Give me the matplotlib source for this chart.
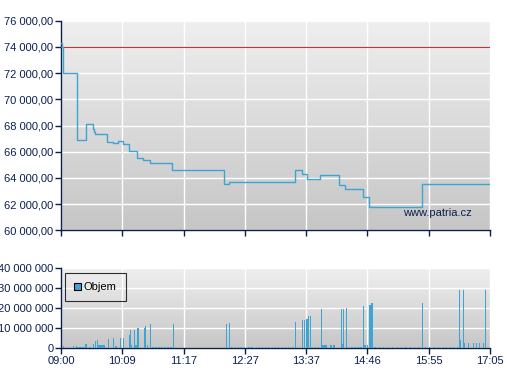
import numpy as np
import matplotlib
matplotlib.use("Agg")
import matplotlib.pyplot as plt
from matplotlib.ticker import FuncFormatter, FixedLocator
from matplotlib.colors import LinearSegmentedColormap

# ---- data ----
# price steps: minutes after 09:00, price (step-post)
price_t = [0, 1.5, 2.6, 17.7, 27.9, 35.8, 37.0, 38.1, 52.3, 59.1, 64.8, 70.4, 76.5, 86.3,
           93.0, 100.3, 125.8, 184.6, 189.6, 260.8, 264.5, 272.1, 278.5, 292.8, 312.4,
           314.3, 321.1, 341.1, 348.5, 407.8, 485]
price_v = [74270, 74000, 72000, 66925, 68150, 67700, 67500, 67380, 66770, 66700, 66800,
           66620, 66030, 65490, 65400, 65160, 64630, 63500, 63710, 63710, 64630, 64270,
           63940, 64190, 64190, 63480, 63120, 62565, 61800, 63500, 63500]
ref_price = 74000

vol_t = [2.6, 13.9, 17.7, 19.2, 21.5, 23.7, 26.0, 28.3, 32.0, 33.6, 36.5, 39.2, 41.0, 43.0,
         45.2, 47.5, 49.4, 53.5, 59.1, 62.2, 67.0, 70.4, 77.2, 78.3, 79.9, 82.9, 84.8, 87.0,
         94.2, 95.3, 98.0, 101.0, 104.0, 107.4, 110.8, 114.2, 117.6, 121.0, 124.4, 127.0,
         186.9, 190.3, 193.4, 196.8, 200.2, 203.6, 207.0, 212.6, 216.0, 220.6, 224.0, 227.4,
         230.8, 234.2, 238.7, 242.1, 245.5, 250.0, 253.4, 256.8, 261.3,
         264.9, 272.8, 275.0, 277.3, 278.4, 279.6, 281.8, 284.0, 287.4, 290.8,
         294.3, 295.6, 297.3, 299.6, 305.2, 308.6, 316.9, 318.0, 319.1, 322.5,
         325.5, 329.0, 332.4, 335.8, 339.2, 341.8, 343.0, 344.6, 346.6, 349.3, 351.6,
         355.0, 360.0, 365.0, 370.0, 375.0, 380.0, 385.0, 390.0, 395.0, 400.0, 404.0,
         408.4, 412.0, 417.0, 422.0, 427.0, 432.0, 436.0, 440.0, 444.0, 448.0,
         450.3, 451.6, 454.8, 456.1, 460.4, 466.1, 469.5, 472.9, 477.4, 479.7]
vol_m = [1.2, 1.0, 1.0, 0.5, 0.5, 0.5, 0.5, 2.0, 0.5, 0.8, 2.2, 3.7, 4.2, 1.7,
         1.7, 1.7, 1.7, 4.7, 5.2, 1.0, 5.2, 5.2, 6.7, 9.2, 1.5, 9.2, 1.8, 10.2,
         10.2, 11.2, 1.7, 12.3, 0.5, 0.5, 0.5, 0.5, 0.5, 0.5, 0.5, 12.2,
         12.2, 12.7, 0.5, 0.5, 0.5, 0.5, 0.5, 0.5, 0.5, 0.5, 0.5, 0.5,
         0.5, 0.5, 0.5, 0.5, 0.5, 0.5, 0.5, 0.5, 0.5,
         13.1, 14.1, 14.1, 14.6, 14.6, 16.1, 16.1, 0.5, 0.5, 0.5,
         19.6, 1.6, 1.6, 1.6, 1.5, 1.5, 19.6, 2.0, 19.6, 20.1,
         0.5, 0.5, 0.5, 0.5, 0.5, 21.1, 1.5, 1.5, 1.5, 21.6, 22.6,
         0.5, 0.5, 0.5, 0.5, 0.5, 0.5, 0.5, 0.5, 0.5, 0.5, 0.5,
         22.6, 0.5, 0.5, 0.5, 0.5, 0.5, 0.5, 0.5, 0.5, 0.5,
         29.2, 4.0, 29.2, 2.6, 2.6, 2.6, 2.6, 2.6, 2.6, 29.2]

x_ticks = [0, 69.3, 138.6, 207.9, 277.1, 346.4, 415.7, 485]
x_labels = ["09:00", "10:09", "11:17", "12:27", "13:37", "14:46", "15:55", "17:05"]

price_ticks = list(range(60000, 76001, 2000))
vol_ticks = [0, 10e6, 20e6, 30e6, 40e6]

# ---- style ----
navy = "#0b1f4f"
blue = "#3fa4d2"
plt.rcParams['font.family'] = ['Liberation Sans', 'DejaVu Sans']

W, H = 507, 380
fig = plt.figure(figsize=(W / 100, H / 100), dpi=100)
fig.patch.set_facecolor("white")


def ax_rect(l, t, r, b):
    return [l / W, 1 - b / H, (r - l) / W, (b - t) / H]


ax1 = fig.add_axes(ax_rect(61, 20.7, 490, 230.3))
ax2 = fig.add_axes(ax_rect(61, 268.3, 490, 348.3))

grad = np.linspace(0, 1, 256).reshape(-1, 1)
cmap = LinearSegmentedColormap.from_list("g", ["#efefef", "#c6c6c6"])

for ax in (ax1, ax2):
    ax.set_facecolor("none")
    ax.imshow(grad, cmap=cmap, aspect="auto", extent=[0, 1, 0, 1],
              transform=ax.transAxes, zorder=-10, interpolation="bilinear")
    for s in ("top", "right"):
        ax.spines[s].set_visible(False)
    for s in ("left", "bottom"):
        ax.spines[s].set_color(navy)
        ax.spines[s].set_linewidth(1.0)
    ax.set_xlim(0, 485)
    ax.xaxis.set_major_locator(FixedLocator(x_ticks))
    ax.grid(True, color="white", linewidth=1.0)
    ax.set_axisbelow(True)
    ax.tick_params(colors=navy, labelcolor=navy, labelsize=8, length=4, width=1.0, pad=1.5)

# price
ax1.set_ylim(60000, 76000)
ax1.set_yticks(price_ticks)
ax1.yaxis.set_major_formatter(FuncFormatter(lambda v, p: f"{int(v):,}".replace(",", " ") + ",00"))
ax1.set_xticklabels([])
ax1.axhline(ref_price, color="#e3262b", linewidth=0.8, zorder=3, snap=True)
ax1.step(price_t, price_v, where="post", color=blue, linewidth=1.0, zorder=4)
ax1.text(0.958, 0.068, "www.patria.cz", transform=ax1.transAxes, ha="right", va="baseline",
         color=navy, fontsize=8)

# volume
ax2.set_ylim(0, 40e6)
ax2.set_yticks(vol_ticks)
ax2.yaxis.set_major_formatter(FuncFormatter(lambda v, p: "0" if v == 0 else f"{int(v):,}".replace(",", " ")))
ax2.set_xticklabels(x_labels)
ax2.bar(vol_t, [v * 1e6 for v in vol_m], width=1.3, color=blue, linewidth=0, label="Objem", zorder=3)
leg = ax2.legend(loc="upper left", frameon=True, fancybox=False, fontsize=8,
                 handlelength=0.6, handleheight=0.6, borderpad=0.8, handletextpad=0.3,
                 borderaxespad=0, bbox_to_anchor=(0.0093, 0.9375))
leg.get_frame().set_edgecolor("black")
leg.get_frame().set_linewidth(0.8)
leg.get_frame().set_facecolor("none")
for h in leg.legend_handles:
    h.set_edgecolor("black")
    h.set_linewidth(0.8)

fig.savefig("out.png", dpi=100, facecolor="white")
